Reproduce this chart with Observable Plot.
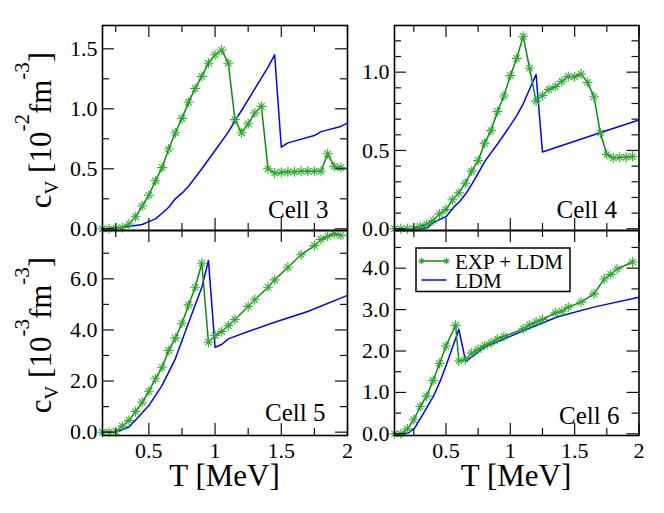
<!DOCTYPE html>
<html>
<head>
<meta charset="utf-8">
<script src="https://cdn.jsdelivr.net/npm/d3@7"></script>
<script src="https://cdn.jsdelivr.net/npm/@observablehq/plot@0.6"></script>
<style>
html, body { margin: 0; padding: 0; background: #fff; }
#wrap { position: relative; width: 664px; height: 513px; overflow: hidden; background: #fff;
  font-family: "Liberation Serif", "Times New Roman", serif; color: #000; }
#wrap svg, #wrap svg text, #wrap svg g { font-family: "Liberation Serif", "Times New Roman", serif !important; }
.ylab { position: absolute; white-space: nowrap; font-size: 31px; line-height: 31px;
  transform: translate(-50%, -50%) rotate(-90deg); }
.ylab sup { font-size: 21px; vertical-align: 22px; line-height: 0; }
.ylab sub { font-size: 19px; vertical-align: -7px; line-height: 0; }
.xlab { position: absolute; white-space: nowrap; font-size: 31px; line-height: 24px; transform: translateX(-50%); }
</style>
</head>
<body>
<div id="wrap"></div>
<script>
// ---------------- data ----------------
const cellNames = ["Cell 3", "Cell 4", "Cell 5", "Cell 6"];
const seriesNames = ["EXP + LDM", "LDM"];

// Cell 3  (c_V in 10^-2 fm^-3)
const T3exp = [0.15,0.20,0.25,0.30,0.35,0.40,0.45,0.50,0.55,0.60,0.65,0.70,0.75,0.80,0.85,0.90,0.95,1.00,1.05,1.10,1.15,1.20,1.25,1.30,1.35,1.40,1.45,1.50,1.55,1.60,1.65,1.70,1.75,1.80,1.85,1.90,1.95];
const cv3exp = [0.00,0.00,0.005,0.01,0.04,0.10,0.19,0.28,0.40,0.51,0.665,0.80,0.92,1.055,1.17,1.27,1.38,1.45,1.49,1.38,0.91,0.80,0.875,0.965,1.02,0.50,0.465,0.47,0.475,0.475,0.48,0.48,0.48,0.48,0.625,0.52,0.51];
const T3ldm = [0.15,0.31,0.45,0.50,0.55,0.60,0.65,0.70,0.75,0.80,0.90,1.00,1.10,1.15,1.20,1.30,1.40,1.45,1.50,1.55,1.75,1.80,1.95,2.00];
const cv3ldm = [0.00,0.013,0.036,0.06,0.083,0.13,0.18,0.25,0.297,0.355,0.50,0.653,0.806,0.90,0.986,1.166,1.347,1.45,0.68,0.716,0.777,0.81,0.853,0.88];

// Cell 4  (c_V in 10^-2 fm^-3)
const T4exp = [0.10,0.15,0.20,0.25,0.30,0.35,0.40,0.45,0.50,0.55,0.60,0.65,0.70,0.75,0.80,0.85,0.90,0.95,1.00,1.05,1.10,1.15,1.20,1.25,1.30,1.35,1.40,1.45,1.50,1.55,1.60,1.65,1.70,1.75,1.80,1.85,1.90,1.95];
const cv4exp = [0,0,0,0.002,0.015,0.028,0.053,0.095,0.123,0.185,0.229,0.291,0.368,0.435,0.547,0.627,0.748,0.848,0.978,1.088,1.229,1.025,0.815,0.851,0.89,0.908,0.941,0.973,0.971,0.988,0.935,0.843,0.612,0.474,0.452,0.457,0.457,0.461];
const T4ldm = [0.10,0.30,0.354,0.405,0.504,0.56,0.605,0.657,0.706,0.755,0.806,0.902,1.00,1.05,1.10,1.20,1.25,1.75,2.00];
const cv4ldm = [0,0,0.006,0.042,0.079,0.138,0.173,0.227,0.291,0.362,0.435,0.543,0.66,0.723,0.798,0.985,0.49,0.627,0.695];

// Cell 5  (c_V in 10^-3 fm^-3)
const T5exp = [0.15,0.20,0.25,0.30,0.35,0.40,0.45,0.50,0.55,0.60,0.65,0.70,0.75,0.80,0.85,0.90,0.95,1.00,1.05,1.10,1.15,1.25,1.30,1.40,1.45,1.55,1.65,1.75,1.80,1.85,1.90,1.95];
const cv5exp = [0.0,0.0,0.02,0.235,0.46,0.81,1.17,1.60,2.09,2.54,3.20,3.68,4.26,4.98,5.67,6.61,3.52,3.78,3.94,4.17,4.41,4.92,5.18,5.67,5.96,6.45,6.94,7.30,7.54,7.66,7.76,7.70];
const T5ldm = [0.15,0.26,0.35,0.40,0.50,0.60,0.70,0.80,0.90,0.95,1.00,1.05,1.10,1.25,1.45,1.70,2.00];
const cv5ldm = [0.0,0.02,0.20,0.48,1.04,1.83,2.87,4.28,5.67,6.72,3.32,3.43,3.65,3.94,4.30,4.72,5.35];

// Cell 6  (c_V in 10^-3 fm^-3)
const T6exp = [0.10,0.15,0.20,0.25,0.30,0.35,0.40,0.45,0.50,0.575,0.60,0.65,0.70,0.75,0.80,0.85,0.90,0.95,1.10,1.15,1.20,1.25,1.35,1.40,1.45,1.55,1.65,1.73,1.78,1.83,1.95];
const cv6exp = [0.0,0.0,0.12,0.34,0.66,0.91,1.29,1.70,2.12,2.62,1.76,1.79,1.95,2.04,2.13,2.20,2.29,2.35,2.535,2.63,2.70,2.76,2.92,2.96,3.06,3.18,3.38,3.74,3.85,3.98,4.15];
const T6ldm = [0.10,0.206,0.255,0.307,0.405,0.457,0.506,0.60,0.653,0.80,1.10,1.363,1.648,2.00];
const cv6ldm = [0.0,0.02,0.13,0.40,0.92,1.29,1.69,2.52,1.75,2.09,2.49,2.82,3.06,3.30];

// ticks
const xMajor = [0.5, 1, 1.5, 2];
const xMinor = [0.25, 0.75, 1.25, 1.75];
const xTickLabels = ["0.5", "1", "1.5", "2"];
const y3Major = [0, 0.5, 1.0, 1.5], y3Minor = [0.25, 0.75, 1.25], y3Labels = ["0.0", "0.5", "1.0", "1.5"];
const y4Major = [0, 0.5, 1.0], y4Minor = [0.1, 0.2, 0.3, 0.4, 0.6, 0.7, 0.8, 0.9, 1.1, 1.2], y4Labels = ["0.0", "0.5", "1.0"];
const y5Major = [0, 2, 4, 6], y5Minor = [1, 3, 5, 7], y5Labels = ["0.0", "2.0", "4.0", "6.0"];
const y6Major = [0, 1, 2, 3, 4], y6Minor = [0.5, 1.5, 2.5, 3.5, 4.5], y6Labels = ["0.0", "1.0", "2.0", "3.0", "4.0"];

// ---------------- drawing ----------------
const W = 664, H = 513;
const FONT = '"Liberation Serif", "Times New Roman", serif';
const GREEN = "#0f8a0f", GREEN_M = "#2eaa2e", BLUE = "#0000ff";

function rows(T, v) { return T.map((t, i) => ({T: t, cv: v[i]})); }

function panel(o) {
  const [l, r, t, b] = o.frame;
  const fw = r - l, fh = b - t;
  const MJ = 12, MN = 7;
  const ts = {stroke: "#111", strokeWidth: 1.2};
  const exp = rows(o.Te, o.ve), ldm = rows(o.Tl, o.vl);
  const marks = [
    Plot.line(ldm, {x: "T", y: "cv", stroke: BLUE, strokeWidth: 1.5}),
    Plot.line(exp, {x: "T", y: "cv", stroke: GREEN, strokeWidth: 1.5}),
    Plot.dot(exp, {x: "T", y: "cv", symbol: "plus", r: 3.3, stroke: GREEN_M, strokeWidth: 1.1}),
    Plot.dot(exp, {x: "T", y: "cv", symbol: "times", r: 3.0, stroke: GREEN_M, strokeWidth: 1.1}),
    Plot.tickX(xMajor, {x: d => d, insetTop: fh - MJ, ...ts}),
    Plot.tickX(xMajor, {x: d => d, insetBottom: fh - MJ, ...ts}),
    Plot.tickX(xMinor, {x: d => d, insetTop: fh - MN, ...ts}),
    Plot.tickX(xMinor, {x: d => d, insetBottom: fh - MN, ...ts}),
    Plot.tickY(o.yMajor, {y: d => d, insetRight: fw - MJ, ...ts}),
    Plot.tickY(o.yMajor, {y: d => d, insetLeft: fw - MJ, ...ts}),
    Plot.tickY(o.yMinor, {y: d => d, insetRight: fw - MN, ...ts}),
    Plot.tickY(o.yMinor, {y: d => d, insetLeft: fw - MN, ...ts}),
    Plot.frame({stroke: "#000", strokeWidth: 1.6}),
    Plot.axisY({ticks: o.yMajor, tickFormat: d => o.yLabels[o.yMajor.indexOf(d)], tickSize: 0, tickPadding: 5, label: null, fontSize: 22}),
    Plot.text([o.cell], {text: d => d, frameAnchor: "bottom-right", textAnchor: "end", lineAnchor: "bottom", dx: o.cellDx, dy: o.cellDy, fontSize: 25})
  ];
  if (o.xAxis) marks.push(Plot.axisX({ticks: xMajor, tickFormat: d => xTickLabels[xMajor.indexOf(d)], tickSize: 0, tickPadding: 7, label: null, fontSize: 22}));
  const svg = Plot.plot({
    width: W, height: H,
    marginLeft: l, marginRight: W - r, marginTop: t, marginBottom: H - b,
    x: o.xAxis ? {domain: o.xDomain} : {domain: o.xDomain, axis: null},
    y: {domain: o.yDomain},
    style: {position: "absolute", left: "0px", top: "0px", background: "transparent", fontSize: "22px", overflow: "visible", color: "#000"},
    marks
  });
  svg.setAttribute("font-family", FONT);
  svg.querySelectorAll("g, text").forEach(e => {
    if (e.hasAttribute("font-family")) e.setAttribute("font-family", FONT);
    if (e.tagName.toLowerCase() === "text") e.style.fontFamily = FONT;
  });
  return svg;
}

const wrap = document.getElementById("wrap");
const L = [102, 347], R = [394, 638.5], TOP = [25, 230], BOT = [230, 435];

wrap.appendChild(panel({Te: T3exp, ve: cv3exp, Tl: T3ldm, vl: cv3ldm, frame: [L[0], L[1], TOP[0], TOP[1]],
  xDomain: [0.15, 2.0], yDomain: [-0.014, 1.694], yMajor: y3Major, yMinor: y3Minor, yLabels: y3Labels,
  cell: cellNames[0], cellDx: -19, cellDy: -13, xAxis: false}));
wrap.appendChild(panel({Te: T4exp, ve: cv4exp, Tl: T4ldm, vl: cv4ldm, frame: [R[0], R[1], TOP[0], TOP[1]],
  xDomain: [0.1, 2.0], yDomain: [-0.011, 1.298], yMajor: y4Major, yMinor: y4Minor, yLabels: y4Labels,
  cell: cellNames[1], cellDx: -22, cellDy: -13, xAxis: false}));
wrap.appendChild(panel({Te: T5exp, ve: cv5exp, Tl: T5ldm, vl: cv5ldm, frame: [L[0], L[1], BOT[0], BOT[1]],
  xDomain: [0.15, 2.0], yDomain: [-0.13, 7.89], yMajor: y5Major, yMinor: y5Minor, yLabels: y5Labels,
  cell: cellNames[2], cellDx: -22, cellDy: -15, xAxis: true}));
wrap.appendChild(panel({Te: T6exp, ve: cv6exp, Tl: T6ldm, vl: cv6ldm, frame: [R[0], R[1], BOT[0], BOT[1]],
  xDomain: [0.1, 2.0], yDomain: [-0.04, 4.91], yMajor: y6Major, yMinor: y6Minor, yLabels: y6Labels,
  cell: cellNames[3], cellDx: -19.5, cellDy: -12, xAxis: true}));

// axis titles
wrap.insertAdjacentHTML("beforeend",
  `<div class="ylab" style="left:39px;top:130px">c<sub>V</sub> [10<sup>-2</sup>fm<sup>-3</sup>]</div>` +
  `<div class="ylab" style="left:39px;top:335px">c<sub>V</sub> [10<sup>-3</sup>fm<sup>-3</sup>]</div>` +
  `<div class="xlab" style="left:224.5px;top:463.5px">T [MeV]</div>` +
  `<div class="xlab" style="left:516px;top:463.5px">T [MeV]</div>`);

// legend
const lg = `
<svg width="156" height="46" style="position:absolute;left:415px;top:247px;overflow:visible">
  <rect x="1" y="1" width="154" height="43.5" fill="#fff" stroke="#000" stroke-width="1.5"/>
  <line x1="6.5" y1="14" x2="31.5" y2="14" stroke="${GREEN}" stroke-width="1.5"/>
  <g stroke="${GREEN_M}" stroke-width="1.1">
    <path d="M6.5,10.8V17.2M3.3,14H9.7M4.4,11.9L8.6,16.1M8.6,11.9L4.4,16.1"/>
    <path d="M31.5,10.8V17.2M28.3,14H34.7M29.4,11.9L33.6,16.1M33.6,11.9L29.4,16.1"/>
  </g>
  <line x1="6.5" y1="33" x2="31.5" y2="33" stroke="${BLUE}" stroke-width="1.5"/>
  <text x="40" y="21.5" font-size="21">${seriesNames[0]}</text>
  <text x="40" y="40.5" font-size="21">${seriesNames[1]}</text>
</svg>`;
wrap.insertAdjacentHTML("beforeend", lg);
</script>
</body>
</html>
